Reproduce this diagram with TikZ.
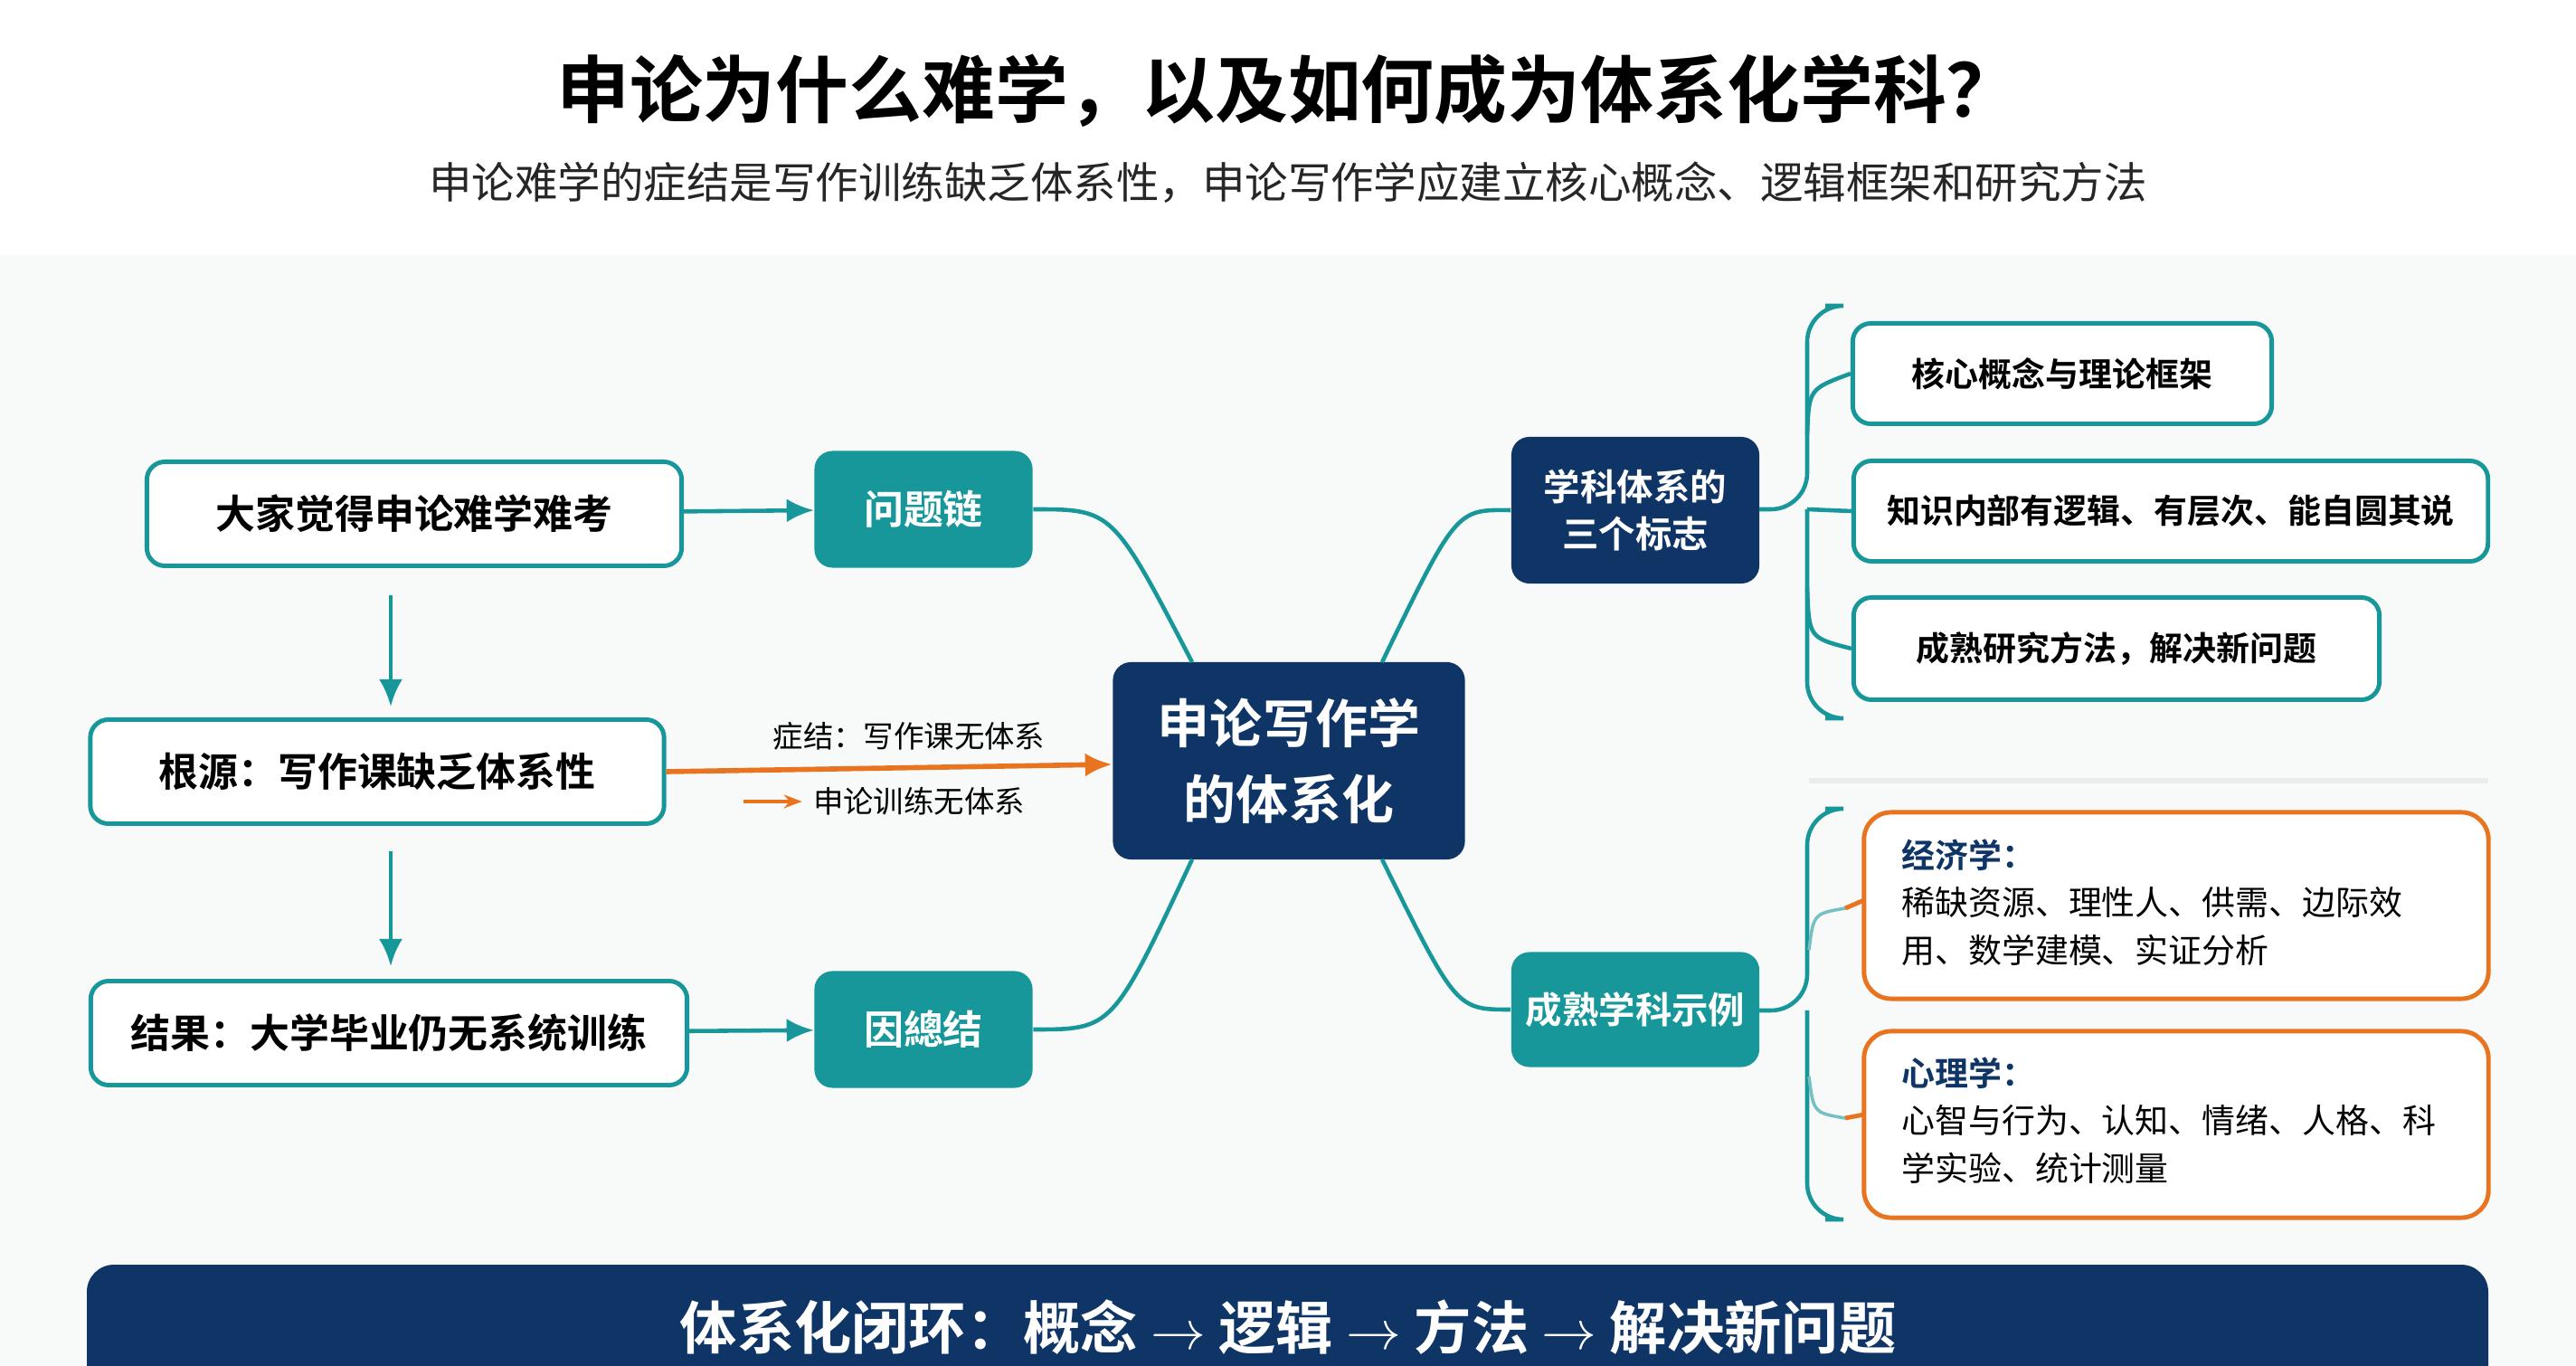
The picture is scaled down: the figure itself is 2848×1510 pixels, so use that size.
\documentclass[tikz,border=0pt]{standalone}
\usepackage{fontspec}
\setmainfont{Noto Sans CJK SC}
\newfontfamily\cjkb{Noto Sans CJK SC Bold}
\usetikzlibrary{positioning,arrows.meta,calc}
\definecolor{navy}{HTML}{0E3566}
\definecolor{tealc}{HTML}{17979A}
\definecolor{orng}{HTML}{E8741F}
\definecolor{bgc}{HTML}{F8F9F9}
\begin{document}
\begin{tikzpicture}[
    x=0.01cm, y=-0.01cm,
    >={Latex[length=3mm,width=2.6mm]},
    % Styles
    leftbox/.style={% white boxes with teal frame
        rectangle, rounded corners=2mm, draw=tealc, line width=1.4pt,
        fill=white, font=\cjkb\fontsize{12.5}{15}\selectfont, text=black,
        },
    tealbox/.style={% teal filled boxes
        rectangle, rounded corners=2mm, fill=tealc, text=white,
        font=\cjkb\fontsize{12.5}{15}\selectfont,
        },
    navybox/.style={% dark blue boxes
        rectangle, rounded corners=2mm, fill=navy, text=white, align=center,
        },
    rightbox/.style={% boxes of the three marks
        rectangle, rounded corners=2mm, draw=tealc, line width=1.4pt,
        fill=white, font=\cjkb\fontsize{10.5}{13}\selectfont, text=black,
        },
    examplebox/.style={% orange boxes
        rectangle, rounded corners=3mm, draw=orng, line width=1.4pt,
        fill=white, minimum width=6.9cm, minimum height=2.06cm,
        },
    Link/.style={% teal connectors
        tealc, line width=1.3pt,
        },
    ]

    % background
    \fill[white] (0,0) rectangle (2848,1510);
    \fill[bgc] (0,282) rectangle (2848,1510);
    \useasboundingbox (0,0) rectangle (2848,1510);

    % title
    \node[font=\cjkb\fontsize{23}{27}\selectfont] (title) at (1424,100) {申论为什么难学，以及如何成为体系化学科？};
    \node[font=\fontsize{13.5}{16}\selectfont, text=black!85] (subtitle) at (1424,202) {申论难学的症结是写作训练缺乏体系性，申论写作学应建立核心概念、逻辑框架和研究方法};

    % left column
    \node[leftbox, minimum width=5.91cm, minimum height=1.15cm] (feel) at (458,568) {大家觉得申论难学难考};
    \node[leftbox, minimum width=6.34cm, minimum height=1.15cm] (root) at (417,853) {根源：写作课缺乏体系性};
    \node[leftbox, minimum width=6.59cm, minimum height=1.15cm] (result) at (430,1142) {结果：大学毕业仍无系统训练};
    \node[tealbox, minimum width=2.41cm, minimum height=1.29cm] (chain) at (1021,563) {问题链};
    \node[tealbox, minimum width=2.41cm, minimum height=1.29cm] (cause) at (1021,1138) {因總结};

    % center
    \node[navybox, minimum width=3.89cm, minimum height=2.18cm,
        font=\cjkb\fontsize{16.5}{24}\selectfont] (core) at (1425,841) {申论写作学\\的体系化};

    % right column
    \node[navybox, minimum width=2.74cm, minimum height=1.62cm,
        font=\cjkb\fontsize{11.5}{15}\selectfont] (marks) at (1808,564) {学科体系的\\三个标志};
    \node[tealbox, minimum width=2.74cm, minimum height=1.27cm,
        font=\cjkb\fontsize{11.5}{14}\selectfont] (mature) at (1808,1116) {成熟学科示例};
    \node[rightbox, minimum width=4.63cm, minimum height=1.11cm] (concept) at (2280,413) {核心概念与理论框架};
    \node[rightbox, minimum width=7.01cm, minimum height=1.11cm] (logic) at (2400,565) {知识内部有逻辑、有层次、能自圆其说};
    \node[rightbox, minimum width=5.81cm, minimum height=1.13cm] (method) at (2340,717) {成熟研究方法，解决新问题};
    \node[examplebox] (econ) at (2406,1001) {};
    \node[examplebox] (psych) at (2406,1243) {};
    \node[anchor=north west, align=left, font=\fontsize{10.5}{15}\selectfont, text width=6.2cm] (econtext) at (2090,915)
        {{\cjkb\color{navy}经济学：}\\稀缺资源、理性人、供需、边际效\\用、数学建模、实证分析};
    \node[anchor=north west, align=left, font=\fontsize{10.5}{15}\selectfont, text width=6.2cm] (psychtext) at (2090,1156)
        {{\cjkb\color{navy}心理学：}\\心智与行为、认知、情绪、人格、科\\学实验、统计测量};

    % separator
    \draw[black!8, line width=1.5pt] (2000,863) -- (2751,863);

    % left arrows
    \draw[->, Link] (feel) -- (chain);
    \draw[->, Link] (result) -- (cause);
    \draw[->, Link] (feel.south -| 432,0) ++(0,30) coordinate (a1) -- (432,781) coordinate (a2);
    \draw[->, Link] (432,941) coordinate (b1) -- (432,1068) coordinate (b2);
    \draw[->, orng, line width=1.6pt] (root.east) -- (core.west |- 0,845) coordinate (c1);
    \node[font=\fontsize{9.5}{11}\selectfont] (sym) at (1005,814) {症结：写作课无体系};
    \node[font=\fontsize{9.5}{11}\selectfont] (sym2) at (1016,886) {申论训练无体系};
    \draw[->, orng, line width=1.2pt, >={Stealth[length=2mm]}] (sym2.west) ++(-65,0) -- (sym2.west);

    % links to center
    \draw[Link] (chain.east) .. controls (1230,563) .. (1318,732);
    \draw[Link] (cause.east) .. controls (1230,1138) .. (1318,950);
    \draw[Link] (1528,732) .. controls (1610,563) .. (marks.west);
    \draw[Link] (1528,950) .. controls (1610,1116) .. (mature.west);

    % top bracket
    \draw[Link, rounded corners=4mm] (2018,338) -- (1998,338) -- (1998,563) -- (1945,563);
    \draw[Link, rounded corners=4mm] (1998,563) -- (1998,794) -- (2018,794);
    \draw[Link] (1998,563) -- (logic.west);
    \draw[Link] (1998,480) .. controls (2000,430) .. (concept.west);
    \draw[Link] (1998,650) .. controls (2000,705) .. (method.west);

    % bottom bracket
    \draw[Link, rounded corners=4mm] (2018,894) -- (1998,894) -- (1998,1117) -- (1945,1117);
    \draw[Link, rounded corners=4mm] (1998,1117) -- (1998,1348) -- (2018,1348);
    \draw[tealc!60, line width=1pt] (2000,1050) .. controls (2005,1010) .. (2040,1004);
    \draw[orng, line width=1.4pt] (2040,1004) -- (2061,995);
    \draw[tealc!60, line width=1pt] (2000,1190) .. controls (2005,1230) .. (2040,1236);
    \draw[orng, line width=1.4pt] (2040,1236) -- (2061,1232);

    % bottom banner
    \fill[navy, rounded corners=3mm] (96,1398) rectangle (2751,1560);
    \node[font=\cjkb\fontsize{18}{22}\selectfont, text=white] (loop) at (1424,1467) {体系化闭环：概念 $\rightarrow$ 逻辑 $\rightarrow$ 方法 $\rightarrow$ 解决新问题};
\end{tikzpicture}
\end{document}
